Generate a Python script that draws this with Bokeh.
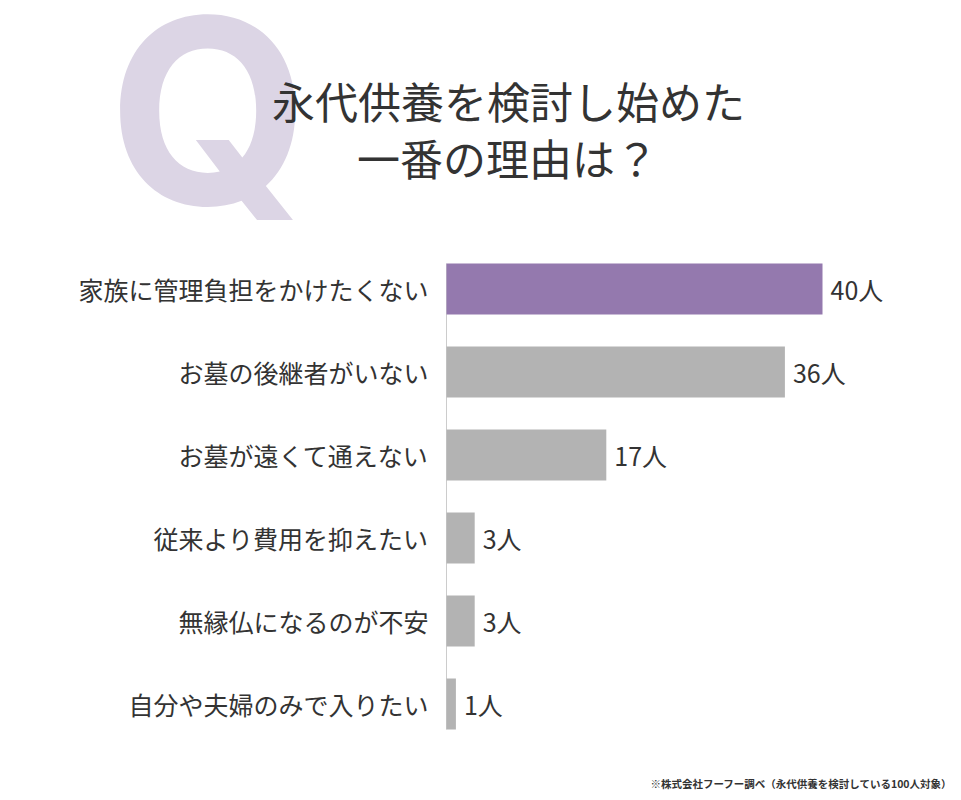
from bokeh.plotting import figure
from bokeh.models import ColumnDataSource, Range1d
from bokeh.core.properties import value
from bokeh.embed import file_html
from bokeh.resources import INLINE

# data
reasons = [
    "家族に管理負担をかけたくない",
    "お墓の後継者がいない",
    "お墓が遠くて通えない",
    "従来より費用を抑えたい",
    "無縁仏になるのが不安",
    "自分や夫婦のみで入りたい",
]
counts = [40, 36, 17, 3, 3, 1]
bar_colors = ["#9479ae", "#b3b3b3", "#b3b3b3", "#b3b3b3", "#b3b3b3", "#b3b3b3"]
title_lines = ["永代供養を検討し始めた", "一番の理由は？"]
note = "※株式会社フーフー調べ（永代供養を検討している100人対象）"

FONT = "Noto Sans CJK JP"
W, H = 953, 792
X0, PX = 446, 9.4        # pixel of the zero line, pixels per person
Y0, PITCH = 288.5, 83    # pixel centre of the first bar, row pitch
BAR_H = 51 / PITCH


def px_x(px):
    return (px - X0) / PX


def px_y(py):
    return (py - Y0) / PITCH


rows = list(range(len(reasons)))
source = ColumnDataSource(dict(
    row=rows,
    reason=reasons,
    count=counts,
    color=bar_colors,
    label=[f"{c}人" for c in counts],
))

p = figure(
    width=W, height=H,
    x_range=Range1d(px_x(0), px_x(W)),
    y_range=Range1d(px_y(H), px_y(0)),
    output_backend="svg", toolbar_location=None,
    min_border=0,
)
p.outline_line_color = None
p.grid.visible = False
p.axis.visible = False

# big Q behind the title
p.text(x=[px_x(208)], y=[px_y(110)], text=["Q"], text_font=value("Inter"),
       text_font_style="bold", text_font_size="258px", text_color="#dcd5e5",
       text_align="center", text_baseline="middle")
p.text(x=[px_x(508), px_x(507)], y=[px_y(99), px_y(156)], text=title_lines,
       text_font=value(FONT), text_font_size="43px",
       text_color="#333333", text_align="center", text_baseline="middle")

# thin zero line from first bar top to last bar bottom
p.segment(x0=[0], x1=[0], y0=[-BAR_H / 2], y1=[rows[-1] + BAR_H / 2],
          line_color="#cccccc", line_width=1)

p.hbar(y="row", right="count", left=0, height=BAR_H, color="color",
       line_color=None, source=source)
p.text(x=0, y="row", text="reason", source=source, x_offset=-18,
       text_align="right", text_baseline="middle", text_font_size="25px",
       text_color="#333333", text_font=value(FONT))
p.text(x="count", y="row", text="label", source=source, x_offset=8,
       text_baseline="middle", text_font_size="25px", text_color="#333333",
       text_font=value(FONT))

p.text(x=[px_x(952)], y=[px_y(783)], text=[note], text_font=value(FONT),
       text_font_size="10.5px", text_font_style="bold", text_color="#333333",
       text_align="right", text_baseline="middle")

open("out.html", "w").write(file_html(p, INLINE))
